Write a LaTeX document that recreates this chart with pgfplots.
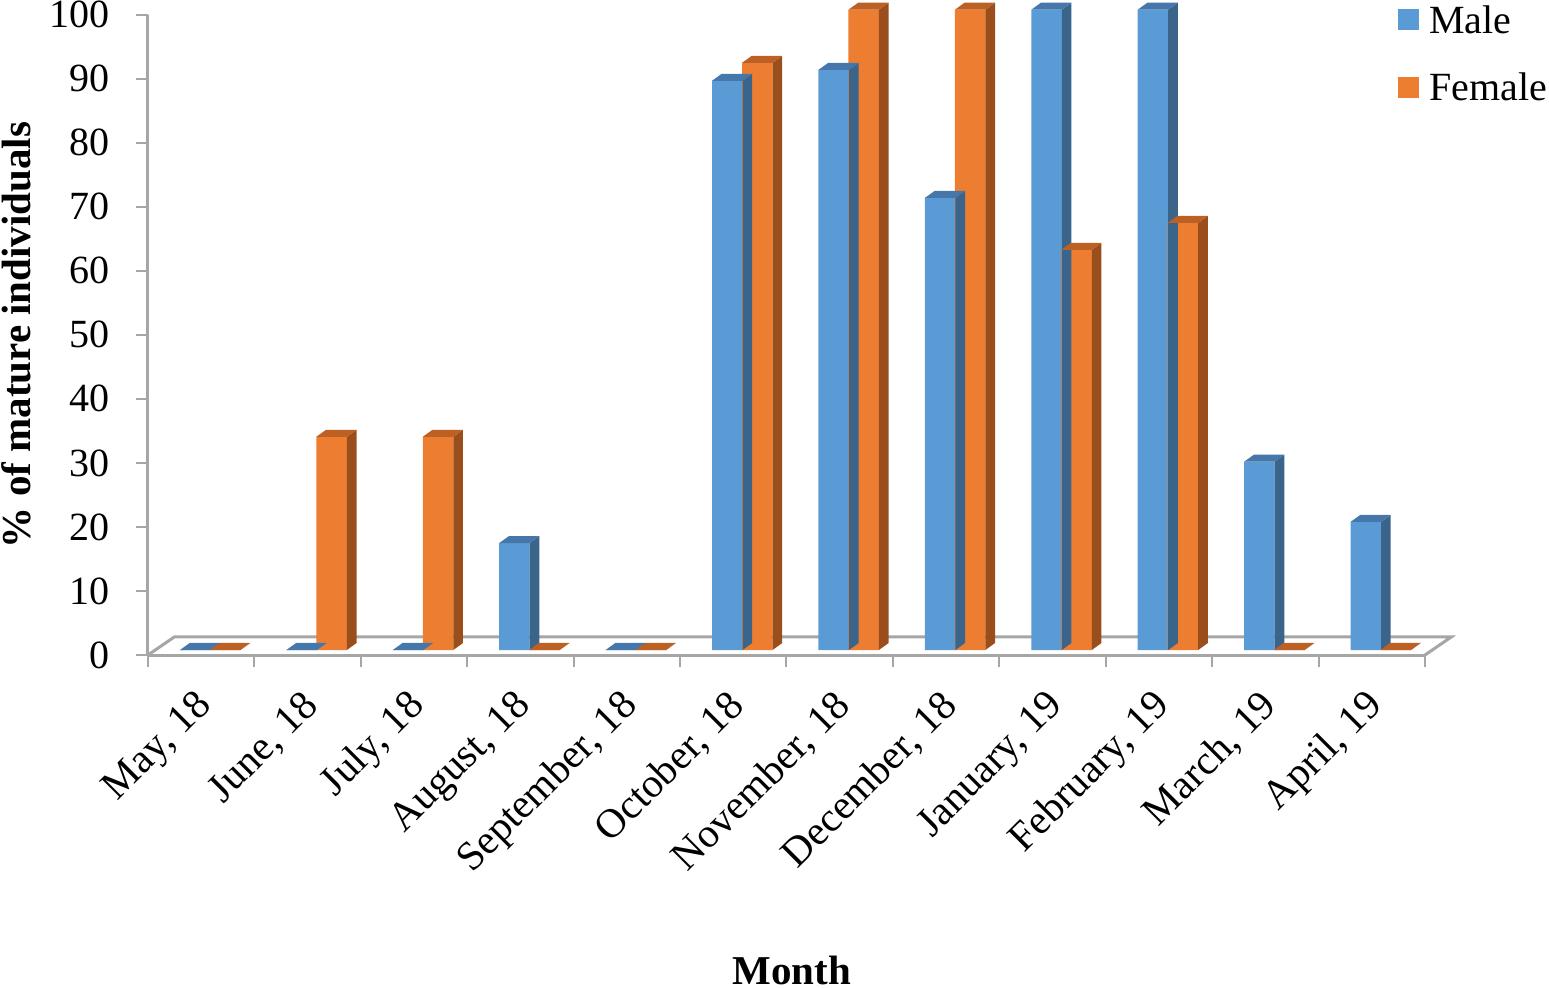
\documentclass[border=0pt]{standalone}
\usepackage{fontspec}
\setmainfont{Liberation Serif}
\usepackage{pgfplots}
\pgfplotsset{compat=1.18}
\usepackage{pgfplotstable}

\definecolor{mfront}{HTML}{5B9BD5}
\definecolor{mside}{HTML}{3A6489}
\definecolor{mtop}{HTML}{4677AB}
\definecolor{ffront}{HTML}{ED7D31}
\definecolor{fside}{HTML}{9A4E1C}
\definecolor{ftop}{HTML}{BD6024}
\definecolor{axgray}{HTML}{A6A6A6}

% month position, % mature males, % mature females
\pgfplotstableread{
x    m     f
0.5  0     0
1.5  0     33.3
2.5  0     33.3
3.5  16.7  0
4.5  0     0
5.5  88.9  91.7
6.5  90.6  100
7.5  70.6  100
8.5  100   62.5
9.5  100   66.7
10.5 29.4  0
11.5 20    0
}\data

% side and top faces of a 3D bar, drawn relative to the bar's front-top-centre point
\newcommand\depthfaces[2]{%
  \pgfmathsetlengthmacro\H{\val*6.403bp}%
  \pgfsetfillcolor{#1}%
  \pgfpathmoveto{\pgfpoint{15.25bp}{0pt}}%
  \pgfpathlineto{\pgfpoint{24.95bp}{7bp}}%
  \pgfpathlineto{\pgfpoint{24.95bp}{7bp-\H}}%
  \pgfpathlineto{\pgfpoint{15.25bp}{-\H}}%
  \pgfpathclose
  \pgfusepath{fill}%
  \pgfsetfillcolor{#2}%
  \pgfpathmoveto{\pgfpoint{-15.25bp}{0pt}}%
  \pgfpathlineto{\pgfpoint{15.25bp}{0pt}}%
  \pgfpathlineto{\pgfpoint{24.95bp}{7bp}}%
  \pgfpathlineto{\pgfpoint{-5.55bp}{7bp}}%
  \pgfpathclose
  \pgfusepath{fill}%
}
\pgfdeclareplotmark{mdepth}{\depthfaces{mside}{mtop}}
\pgfdeclareplotmark{fdepth}{\depthfaces{fside}{ftop}}

\newcommand\bigfont{\fontsize{40bp}{48bp}\selectfont}
\newcommand\catfont{\fontsize{41bp}{48bp}\selectfont}
\newcommand\labfont{\fontsize{41bp}{48bp}\selectfont\bfseries}

\begin{document}
\begin{tikzpicture}
\useasboundingbox (-148bp,-333bp) rectangle (1401bp,655bp);
% frame: value axis, floor and category axis
\begin{axis}[
  at={(0,0)}, anchor=south west,
  scale only axis, width=1277bp, height=640.3bp,
  xmin=0, xmax=12, ymin=0, ymax=100,
  clip=false,
  axis x line*=bottom, axis y line*=left,
  axis line style={draw=axgray, line width=3bp},
  tick align=outside, major tick length=12bp,
  tick style={draw=axgray, line width=2bp},
  xtick={0,1,...,12}, xticklabels={},
  extra x ticks={0.5,1.5,...,11.5},
  extra x tick labels={{May, 18},{June, 18},{July, 18},{August, 18},{September, 18},{October, 18},{November, 18},{December, 18},{January, 19},{February, 19},{March, 19},{April, 19}},
  extra x tick style={major tick length=0pt,
     xticklabel style={font=\catfont, yshift=-45bp, xshift=5bp, rotate=45, anchor=east, inner sep=0pt}},
  ytick={0,10,...,100},
  /pgf/number format/assume math mode=true,
  tick label style={font=\bigfont},
  yticklabel style={inner sep=0pt, xshift=-26bp},
  xlabel={Month}, ylabel={\% of mature individuals},
  label style={font=\labfont},
  xlabel style={at={(axis description cs:0.504,0)}, anchor=center, yshift=-315bp},
  ylabel style={at={(axis description cs:-0.103,0.5)}, anchor=center},
]
\addplot[draw=axgray, line width=3bp, forget plot] coordinates {(0,0) (0.25,2.85) (12.25,2.85) (12,0)};
\end{axis}
% bars, sitting 5bp into the depth of the floor
\begin{axis}[
  at={(0bp,5bp)}, anchor=south west,
  scale only axis, width=1277bp, height=640.3bp,
  xmin=0, xmax=12, ymin=0, ymax=100,
  clip=false, hide axis,
  legend style={draw=none, fill=none, at={(axis description cs:0.979,1.0094)}, anchor=north west,
     inner sep=0pt, font=\bigfont, row sep=34bp},
  legend cell align=left,
]
\addplot[ybar, bar width=30.5bp, bar shift=-6bp, fill=mfront, draw=none,
  legend image code/.code={\fill[mfront] (0bp,-10bp) rectangle (21bp,11bp); \path (29bp,0bp);}]
  table[x=x, y=m] {\data};
\addlegendentry{Male}
\addplot[forget plot, scatter, only marks, mark=mdepth,
  visualization depends on={\thisrow{m}\as\val}]
  table[x expr=\thisrow{x}-0.05638, y=m] {\data};
\addplot[ybar, bar width=30.5bp, bar shift=24bp, fill=ffront, draw=none,
  legend image code/.code={\fill[ffront] (0bp,-10bp) rectangle (21bp,11bp); \path (29bp,0bp);}]
  table[x=x, y=f] {\data};
\addlegendentry{Female}
\addplot[forget plot, scatter, only marks, mark=fdepth,
  visualization depends on={\thisrow{f}\as\val}]
  table[x expr=\thisrow{x}+0.22552, y=f] {\data};
\end{axis}
\end{tikzpicture}
\end{document}
